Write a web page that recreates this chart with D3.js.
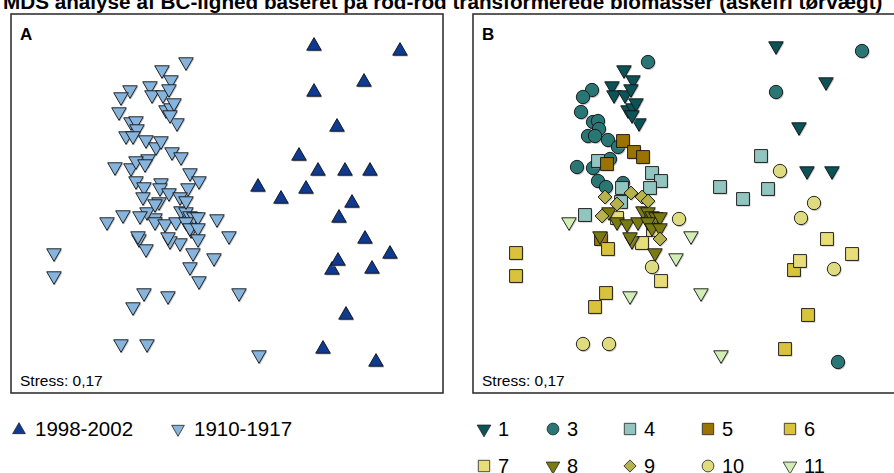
<!DOCTYPE html>
<html><head><meta charset="utf-8">
<script src="https://cdn.jsdelivr.net/npm/d3@7"></script>
<style>body{margin:0;background:#fff}svg{display:block;font-family:"Liberation Sans",Arial,sans-serif}</style>
</head><body><svg id="c" width="894" height="473"></svg>
<script>
// NMDS coordinates [NMDS1, NMDS2, period] ; period 1 = 1998-2002, 0 = 1910-1917
const type1 = [[0.87,1.57,1],[1.37,1.21,1],[1.10,0.76,1],[1.18,0.32,1],[1.43,0.32,1],
  [-0.65,1.33,0],[-0.56,1.23,0],[-0.77,1.17,0],[-0.75,1.08,0],[-0.64,1.08,0],[-0.58,1.14,0],
  [-0.61,0.93,0],[-0.56,0.95,0],[-0.53,1.00,0],[-0.50,0.80,0],[-0.57,0.88,0]];
const type3 = [[1.73,1.52,1],[0.87,1.11,1],[1.49,-1.59,1],
  [-0.41,1.41,0],[-0.97,1.13,0],[-1.06,1.06,0],[-1.08,0.91,0],[-0.96,0.81,0],[-0.91,0.82,0],
  [-0.90,0.74,0],[-1.01,0.67,0],[-0.94,0.67,0],[-0.81,0.63,0],[-0.71,0.56,0],[-1.12,0.36,0],
  [-0.96,0.35,0],[-0.79,0.44,0],[-0.91,0.22,0],[-0.83,0.16,0],[-0.66,0.20,0]];
const type4 = [[0.72,0.47,1],[0.31,0.16,1],[0.54,0.04,1],[0.79,0.14,1],
  [-0.91,0.42,0],[-0.37,0.30,0],[-0.28,0.22,0],[-0.39,0.15,0],[-0.67,0.15,0],[-0.68,0.01,0],[-1.04,-0.12,0]];
const type5 = [[-0.66,0.62,0],[-0.55,0.51,0],[-0.46,0.46,0],[-0.82,0.39,0],[-0.88,-0.36,0]];
const type6 = [[1.05,-0.67,1],[1.19,-1.12,1],[0.96,-1.46,1],
  [-1.73,-0.50,0],[-1.73,-0.73,0],[-0.83,-0.90,0],[-0.94,-1.04,0],[-0.81,-0.46,0]];
const type7 = [[1.38,-0.36,1],[1.63,-0.51,1],[1.11,-0.58,1],
  [-0.28,-0.78,0],[-0.47,-0.40,0],[-0.36,-0.27,0],[-0.72,-0.15,0]];
const type8 = [[-0.89,-0.33,0],[-0.57,-0.38,0],[-0.34,-0.50,0],[-0.80,-0.09,0],[-0.46,-0.08,0],
  [-0.41,-0.09,0],[-0.37,-0.13,0],[-0.33,-0.14,0],[-0.29,-0.14,0],[-0.72,-0.19,0],[-0.62,-0.21,0],
  [-0.51,-0.19,0],[-0.41,-0.19,0],[-0.59,-0.34,0],[-0.37,-0.25,0],[-0.29,-0.25,0]];
const type9 = [[-0.84,0.06,0],[-0.58,0.10,0],[-0.47,0.06,0],[-0.41,0.02,0],[-0.72,-0.01,0],
  [-0.87,-0.13,0],[-0.29,-0.36,0]];
const type10 = [[0.91,0.32,1],[1.25,0.00,1],[1.12,-0.15,1],[1.45,-0.66,1],
  [-0.10,-0.16,0],[-1.06,-1.41,0],[-0.80,-1.41,0],[-0.37,-0.64,0]];
const type11 = [[0.02,-0.33,0],[0.12,-0.90,0],[0.32,-1.52,0],[-1.20,-0.19,0],[-0.59,-0.93,0],[-0.13,-0.55,0]];

const typeNames = ["1","3","4","5","6","7","8","9","10","11"];
const typeData = [type1,type3,type4,type5,type6,type7,type8,type9,type10,type11];
const typeShapes = ["down","circle","square","square","square","square","down","diamond","circle","down"];
const typeColors = ["#0b5357","#2a7675","#92c5bf","#9a7300","#d9c23c","#e9dd7a","#7a7a12","#b6b24c","#dfdc80","#d2eeb6"];
const periodNames = ["1998-2002","1910-1917"];
const periodShapes = ["up","down"];
const periodColors = ["#0f3a92","#87b4dc"];
const title = "MDS analyse af BC-lighed baseret på rod-rod transformerede biomasser (askefri tørvægt)";
const stressLabel = "Stress: 0,17";

const svg = d3.select("#c");
const W = 432, H = 379;
const x = d3.scaleLinear().domain([-2.16, 2.16]).range([0, W]);
const y = d3.scaleLinear().domain([1.89, -1.90]).range([0, H]);

function symPath(shape){
  if(shape==="circle") return d3.symbol(d3.symbolCircle, 140)();
  if(shape==="square") return d3.symbol(d3.symbolSquare, 165)();
  if(shape==="diamond") return d3.symbol(d3.symbolSquare, 95)();
  return d3.symbol(d3.symbolTriangle, 92)();
}
function symRot(shape){ return shape==="down" ? 180 : (shape==="diamond" ? 45 : 0); }

function drawMark(g, cx, cy, shape, color){
  const r = symRot(shape);
  g.append("path").attr("d", symPath(shape))
    .attr("transform", `translate(${cx+1},${cy+1.2}) rotate(${r})`)
    .attr("fill", "#9a9a9a").attr("opacity", 0.6);
  g.append("path").attr("d", symPath(shape))
    .attr("transform", `translate(${cx},${cy}) rotate(${r})`)
    .attr("fill", color).attr("stroke", "#111").attr("stroke-width", 0.9);
}

svg.append("text").attr("x", 3).attr("y", 9).attr("font-size", 20.7).attr("font-weight", "bold").text(title);

const panels = [{ox:11, label:"A"}, {ox:473, label:"B"}];
panels.forEach((p, i) => {
  const g = svg.append("g").attr("transform", `translate(${p.ox},14)`);
  g.append("rect").attr("width", W).attr("height", H).attr("fill", "#fff")
    .attr("stroke", "#333").attr("stroke-width", 1.6);
  g.append("text").attr("x", 9).attr("y", 26).attr("font-size", 17).attr("font-weight", "bold").text(p.label);
  g.append("text").attr("x", 9).attr("y", 372).attr("font-size", 15.5).text(stressLabel);
  const m = g.append("g");
  const all = [];
  typeData.forEach((arr, t) => arr.forEach(d => all.push({x:d[0], y:d[1], p:d[2], t})));
  all.forEach(d => {
    if(i===0){
      const pi = d.p===1 ? 0 : 1;
      drawMark(m, x(d.x), y(d.y), periodShapes[pi], periodColors[pi]);
    } else {
      drawMark(m, x(d.x), y(d.y), typeShapes[d.t], typeColors[d.t]);
    }
  });
});

// legend A
const legA = svg.append("g");
const legAx = [19, 178];
periodNames.forEach((n, i) => {
  const sh = periodShapes[i];
  legA.append("path").attr("d", d3.symbol(d3.symbolTriangle, 70)())
    .attr("transform", `translate(${legAx[i]},${i===0?430:429}) rotate(${symRot(sh)})`)
    .attr("fill", periodColors[i]).attr("stroke", "#222").attr("stroke-width", 0.8);
  legA.append("text").attr("x", legAx[i]+16).attr("y", 436).attr("font-size", 20.5).text(n);
});

// legend B
const legB = svg.append("g");
const colX = [484, 553, 630, 708, 790];
typeNames.forEach((n, i) => {
  const cx = colX[i % 5], cy = i < 5 ? 429 : 466;
  const sh = typeShapes[i];
  let d;
  if(sh==="circle") d = d3.symbol(d3.symbolCircle, 110)();
  else if(sh==="square") d = d3.symbol(d3.symbolSquare, 130)();
  else if(sh==="diamond") d = d3.symbol(d3.symbolSquare, 75)();
  else d = d3.symbol(d3.symbolTriangle, 80)();
  legB.append("path").attr("d", d).attr("transform", `translate(${cx},${cy}) rotate(${symRot(sh)})`)
    .attr("fill", typeColors[i]).attr("stroke", "#222").attr("stroke-width", 0.8);
  legB.append("text").attr("x", cx + 14).attr("y", cy + 7).attr("font-size", 20).text(n);
});
</script></body></html>
